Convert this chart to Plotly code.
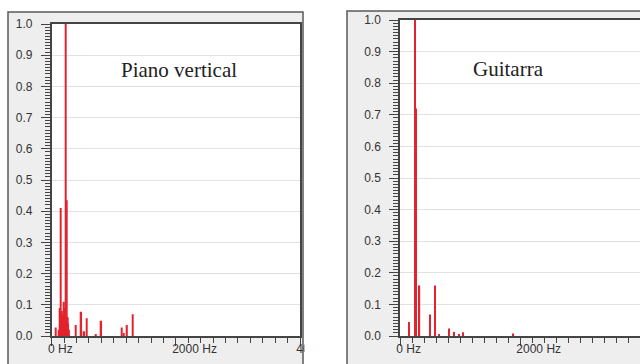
import plotly.graph_objects as go

# ---- data ----
piano_freq = [64, 120, 130, 140, 150, 160, 170, 180, 190, 200, 210, 225, 240, 255, 268, 282,
              387, 478, 526, 564, 715, 800, 1123, 1155, 1215, 1300]
piano_amp = [0.027, 0.02, 0.09, 0.08, 0.41, 0.08, 0.07, 0.06, 0.08, 0.11, 0.09, 1.0, 0.435, 0.06, 0.04, 0.02,
             0.035, 0.078, 0.015, 0.057, 0.004, 0.049, 0.027, 0.01, 0.035, 0.07]

guitar_freq = [150, 250, 262, 325, 498, 584, 645, 818, 906, 986, 1052, 1890]
guitar_amp = [0.044, 1.0, 0.72, 0.16, 0.068, 0.16, 0.004, 0.024, 0.013, 0.004, 0.012, 0.008]

y_tick_vals = [0.0, 0.1, 0.2, 0.3, 0.4, 0.5, 0.6, 0.7, 0.8, 0.9, 1.0]
y_tick_text = ["0.0", "0.1", "0.2", "0.3", "0.4", "0.5", "0.6", "0.7", "0.8", "0.9", "1.0"]
x_tick_vals = [0, 2000, 4000]
x_tick_text = ["0 Hz", "2000 Hz", "4000 Hz"]

titles = ["Piano vertical", "Guitarra"]

W, H = 640, 364
RED = "#e3232d"
AX = "#444444"
TXT = "#333333"
FRAME = "#5a5a5a"
PANEL = "#eeeeee"

fig = go.Figure()
fig.add_trace(go.Bar(x=piano_freq, y=piano_amp, width=22, marker_color=RED,
                     marker_line_width=0, xaxis="x", yaxis="y", showlegend=False))
fig.add_trace(go.Bar(x=guitar_freq, y=guitar_amp, width=22, marker_color=RED,
                     marker_line_width=0, xaxis="x2", yaxis="y2", showlegend=False))

tickfont = dict(family="Liberation Sans, Arial", size=12, color=TXT)

def xax(domain, rng, anchor):
    return dict(domain=domain, range=rng, anchor=anchor, automargin=False,
                showgrid=False, zeroline=False,
                showline=True, linecolor=AX, linewidth=1.5, mirror=True,
                tickmode="array", tickvals=x_tick_vals, ticktext=x_tick_text,
                ticks="outside", ticklen=8, tickcolor=AX, tickwidth=1.2,
                tickfont=tickfont, ticklabelposition="outside right",
                ticklabelshift=-5, ticklabelstandoff=1,
                minor=dict(dtick=200, tick0=0, ticks="outside", ticklen=5, tickcolor=AX,
                           tickwidth=1, showgrid=False),
                fixedrange=True)

def yax(domain, anchor):
    return dict(domain=domain, range=[0, 1], anchor=anchor, automargin=False,
                showgrid=True, gridcolor="#e2e2e2",
                gridwidth=1, zeroline=False, showline=True, linecolor=AX, linewidth=1.5, mirror=True,
                tickmode="array", tickvals=y_tick_vals, ticktext=y_tick_text,
                ticks="outside", ticklen=9, tickcolor=AX, tickwidth=1.2,
                tickfont=tickfont, ticklabelstandoff=6,
                minor=dict(dtick=0.01, tick0=0, ticks="outside", ticklen=5, tickcolor=AX,
                           tickwidth=1, showgrid=False),
                fixedrange=True)

# panel frame geometry (paper fractions)
lx0, lx1, ly1 = 8 / W, 303 / W, 1 - 12 / H
rx0, ry1 = 347 / W, 1 - 11 / H

ybot = 1 - 336 / H
fig.update_layout(
    width=W, height=H, autosize=False,
    margin=dict(l=0, r=0, t=0, b=0, autoexpand=False),
    paper_bgcolor="white", plot_bgcolor="white",
    barmode="overlay",
    xaxis=xax([51.7 / W, 300 / W], [0, 4000], "y"),
    yaxis=yax([ybot, 1 - 24 / H], "x"),
    xaxis2=xax([400 / W, 1.0], [0, 4000], "y2"),
    yaxis2=yax([ybot, 1 - 20 / H], "x2"),
    shapes=[
        # panel fills
        dict(type="rect", xref="paper", yref="paper", x0=lx0, x1=lx1, y0=0, y1=ly1,
             fillcolor=PANEL, line=dict(width=0), layer="below"),
        dict(type="rect", xref="paper", yref="paper", x0=rx0, x1=1, y0=0, y1=ry1,
             fillcolor=PANEL, line=dict(width=0), layer="below"),
        # panel borders (open at the bottom / right edge of the picture)
        dict(type="path", xref="paper", yref="paper",
             path=f"M {lx0},0 L {lx0},{ly1} L {lx1},{ly1} L {lx1},0",
             fillcolor="rgba(0,0,0,0)", line=dict(color=FRAME, width=1.5), layer="below"),
        dict(type="path", xref="paper", yref="paper",
             path=f"M {rx0},0 L {rx0},{ry1} L 1,{ry1}",
             fillcolor="rgba(0,0,0,0)", line=dict(color=FRAME, width=1.5), layer="below"),
        # white plot areas
        dict(type="rect", xref="x domain", yref="y domain", x0=0, x1=1, y0=0, y1=1,
             fillcolor="white", line=dict(width=0), layer="below"),
        dict(type="rect", xref="x2 domain", yref="y2 domain", x0=0, x1=1, y0=0, y1=1,
             fillcolor="white", line=dict(width=0), layer="below"),
        # gap between panels hides the overflowing tick label
        dict(type="rect", xref="paper", yref="paper", x0=304.5 / W, x1=346 / W, y0=0, y1=1 - 339 / H,
             fillcolor="white", line=dict(width=0), layer="above"),
    ],
    annotations=[
        dict(text=titles[0], xref="paper", yref="paper", x=179 / W, y=1 - 70 / H,
             xanchor="center", yanchor="middle", showarrow=False,
             font=dict(family="Liberation Serif, Times New Roman", size=21, color="#222222")),
        dict(text=titles[1], xref="paper", yref="paper", x=508 / W, y=1 - 69 / H,
             xanchor="center", yanchor="middle", showarrow=False,
             font=dict(family="Liberation Serif, Times New Roman", size=21, color="#222222")),
    ],
)

fig.write_html(
    "out.html",
    config={"displayModeBar": False},
    post_script="document.body.style.margin='0';document.body.style.overflow='hidden';"
                "document.documentElement.style.overflow='hidden';",
)
